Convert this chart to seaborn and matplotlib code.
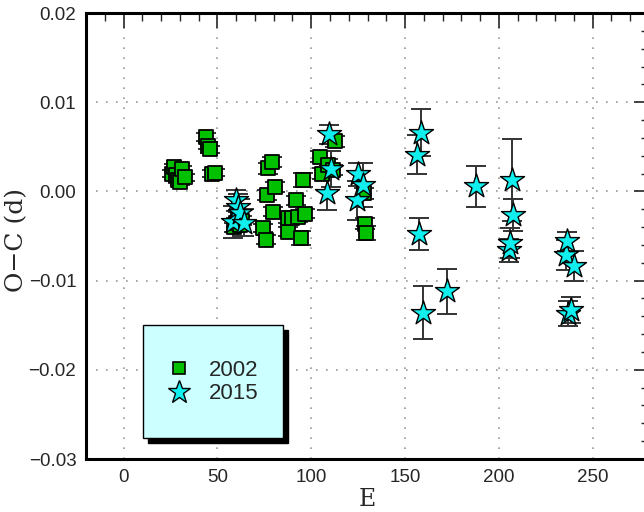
import matplotlib
matplotlib.use("Agg")
import matplotlib.pyplot as plt
from matplotlib.lines import Line2D
from matplotlib.patches import Rectangle
from matplotlib.ticker import MultipleLocator
import seaborn as sns
import pandas as pd

# ---- data ----
e_2002 = [26, 27, 28, 29, 30, 31, 33, 44, 45, 46, 47, 49,
          59, 60, 61, 62, 63, 74.5, 75.8, 76.3, 77.2, 79, 79.5, 80.7,
          87.5, 87.8, 89.6, 91.9, 93.1, 94.6, 95.8, 96.7,
          104.5, 105.6, 109, 111.5, 112.6, 128, 128.7, 129.3]
oc_2002 = [0.0020, 0.0027, 0.0018, 0.0013, 0.0011, 0.0025, 0.0016, 0.0061, 0.0051, 0.0047, 0.0020, 0.0021,
           -0.0040, -0.0035, -0.0028, -0.0038, -0.0033, -0.0041, -0.0054, -0.0004, 0.0026, 0.0033, -0.0023, 0.0005,
           -0.0045, -0.0030, -0.0030, -0.0010, -0.0029, -0.0052, 0.0013, -0.0025,
           0.0039, 0.0020, 0.0030, 0.0024, 0.0056, -0.0002, -0.0036, -0.0047]
err_2002 = [0.0004, 0.0004, 0.0004, 0.0004, 0.0004, 0.0004, 0.0004, 0.0004, 0.0004, 0.0004, 0.0004, 0.0004,
            0.0005, 0.0005, 0.0005, 0.0005, 0.0005, 0.0005, 0.0005, 0.0006, 0.0006, 0.0006, 0.0005, 0.0006,
            0.0005, 0.0005, 0.0005, 0.0005, 0.0005, 0.0008, 0.0008, 0.0005,
            0.0006, 0.0006, 0.0006, 0.0006, 0.0006, 0.0006, 0.0006, 0.0008]

e_2015 = [58.5, 60, 61, 62, 64, 108.5, 109.7, 110.5, 124.2, 125.1, 127.4,
          156.2, 158.3, 157.3, 159.4, 172.2, 187.8, 205.2, 206.1, 207, 207.7,
          235.7, 236.4, 240, 237, 238.2]
oc_2015 = [-0.0034, -0.0010, -0.0018, -0.0024, -0.0035, -0.0002, 0.0064, 0.0025, -0.0010, 0.0019, 0.0007,
           0.0041, 0.0066, -0.0048, -0.0136, -0.0112, 0.0006, -0.0066, -0.0058, 0.0013, -0.0026,
           -0.0071, -0.0056, -0.0084, -0.0137, -0.0133]
err_2015 = [0.0018, 0.0012, 0.0015, 0.0015, 0.0015, 0.0019, 0.0011, 0.0020, 0.0022, 0.0013, 0.0025,
            0.0022, 0.0026, 0.0018, 0.0030, 0.0025, 0.0023, 0.0013, 0.0017, 0.0046, 0.0018,
            0.0017, 0.0011, 0.0017, 0.0014, 0.0015]

labels = ["2002", "2015"]
x_ticks = [0, 50, 100, 150, 200, 250]
y_ticks = [0.02, 0.01, 0.00, -0.01, -0.02, -0.03]

df02 = pd.DataFrame({"E": e_2002, "OC": oc_2002, "err": err_2002})
df15 = pd.DataFrame({"E": e_2015, "OC": oc_2015, "err": err_2015})

sns.set_style("white")
plt.rcParams["font.family"] = ["Liberation Sans", "DejaVu Sans"]

GREEN = "#00c000"
CYAN = "#11eeee"

fig = plt.figure(figsize=(6.44, 5.12), dpi=100)
ax = fig.add_axes([86 / 644, 53 / 512, 563 / 644, 446 / 512])

ax.errorbar(df02["E"], df02["OC"], yerr=df02["err"], fmt="none", ecolor="#333333",
            elinewidth=1.4, capsize=7, capthick=1.4, zorder=2)
ax.errorbar(df15["E"], df15["OC"], yerr=df15["err"], fmt="none", ecolor="#333333",
            elinewidth=1.4, capsize=7, capthick=1.4, zorder=2)
sns.scatterplot(data=df02, x="E", y="OC", marker="s", s=115, color=GREEN,
                edgecolor="black", linewidth=1.3, ax=ax, zorder=3, legend=False)
sns.scatterplot(data=df15, x="E", y="OC", marker="*", s=330, color=CYAN,
                edgecolor="black", linewidth=1.0, ax=ax, zorder=4, legend=False)

ax.set_xlim(-20, 280)
ax.set_ylim(-0.03, 0.02)
ax.set_xticks(x_ticks)
ax.set_yticks(y_ticks)
ax.xaxis.set_minor_locator(MultipleLocator(10))
ax.yaxis.set_minor_locator(MultipleLocator(0.002))
ax.set_yticklabels([f"{v:.2f}".replace("-", "\u2212") for v in y_ticks])
ax.tick_params(which="major", direction="in", length=11, width=1.2,
               top=True, right=True, labelsize=13.5, pad=7)
ax.tick_params(which="minor", direction="in", length=6, width=1.0,
               top=True, right=True)
for s in ax.spines.values():
    s.set_linewidth(2.2)
    s.set_color("black")
ax.grid(True, which="major", color="#999999", linestyle=(0, (1, 5)), linewidth=1.2)
ax.set_axisbelow(True)

serif = ["DejaVu Serif", "Liberation Serif"]
ax.set_xlabel("E", family=serif, fontsize=17, labelpad=2)
ax.set_ylabel("O\u2212C (d)", family=serif, fontsize=18)
ax.yaxis.set_label_coords(-0.103, 0.49)

# legend box with shadow
bx, by, bw, bh = 0.101, 0.047, 0.249, 0.253
ax.add_patch(Rectangle((bx + 0.009, by - 0.011), bw, bh, transform=ax.transAxes,
                       facecolor="black", edgecolor="black", zorder=8))
ax.add_patch(Rectangle((bx, by), bw, bh, transform=ax.transAxes,
                       facecolor="#ccffff", edgecolor="black", linewidth=1.0, zorder=9))
handles = [
    Line2D([], [], linestyle="none", marker="s", markersize=9, markerfacecolor=GREEN,
           markeredgecolor="black", markeredgewidth=1.2),
    Line2D([], [], linestyle="none", marker="*", markersize=17, markerfacecolor=CYAN,
           markeredgecolor="black", markeredgewidth=1.0),
]
leg = ax.legend(handles, labels, loc="center", bbox_to_anchor=(0.2256, 0.1726),
                frameon=False, fontsize=16, handlelength=1.0, handletextpad=0.86,
                labelspacing=0.12, borderpad=0)
leg.set_zorder(10)

fig.savefig("out.png", dpi=100)
